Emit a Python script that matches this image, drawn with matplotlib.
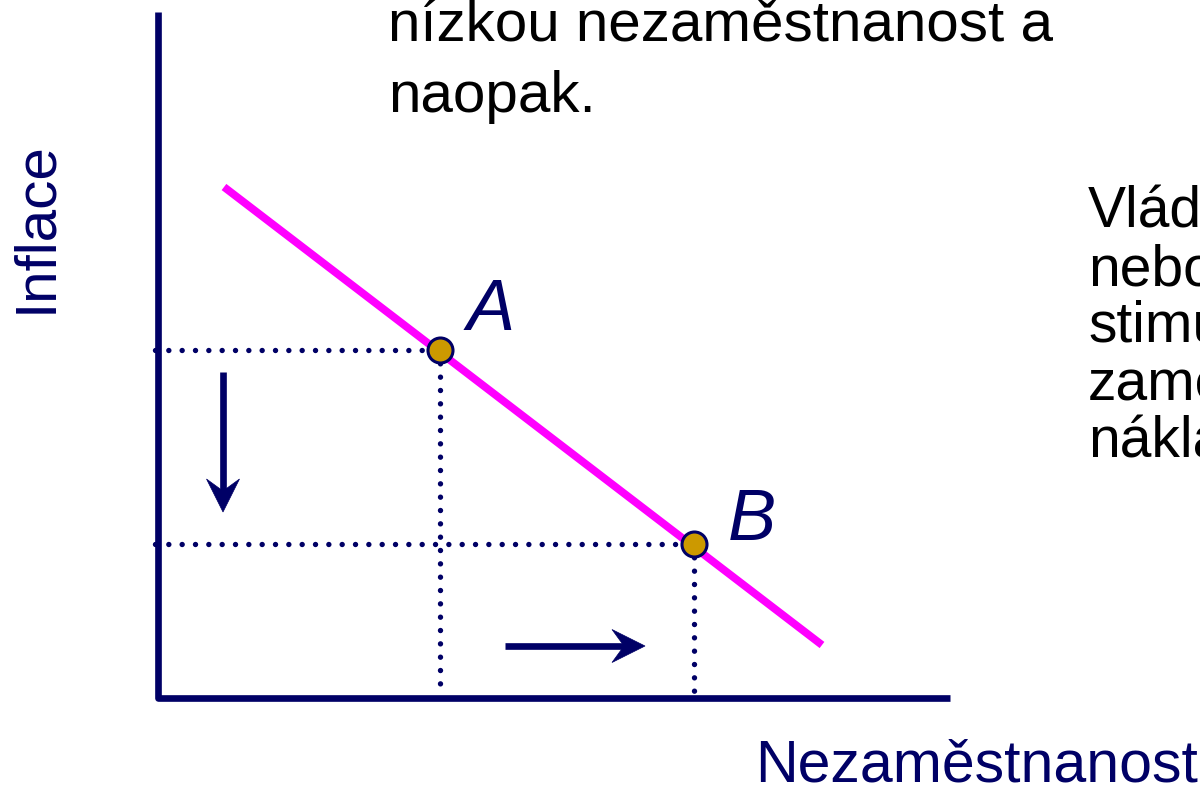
import matplotlib
matplotlib.use("Agg")
import matplotlib.pyplot as plt
import numpy as np
from matplotlib.patches import Polygon

plt.rcParams['lines.scale_dashes'] = False

NAVY = "#000066"
MAGENTA = "#FF00FF"
GOLD = "#CC9900"

# Phillips curve (schematic): unemployment (x) vs inflation (y)
curve_x = [0.66, 6.64]
curve_y = [5.11, 0.53]
point_names = ["A", "B"]
point_x = [2.82, 5.36]
point_y = [3.48, 1.54]
axis_x_max = 7.92
axis_y_max = 6.86

# Arrows: (x0, y0, x1, y1)
arrow_down = (0.65, 3.26, 0.65, 1.86)
arrow_right = (3.47, 0.52, 4.87, 0.52)

x_label = "Nezaměstnanost"
y_label = "Inflace"
top_lines = ["nízkou nezaměstnanost a", "naopak."]
right_lines = ["Vláda", "nebo", "stimulovat", "zaměstnanost", "náklady"]

fig = plt.figure(figsize=(12, 7.86), dpi=100)
ax = fig.add_axes([0, 0, 1, 1])
ax.set_xlim(-1.58, 10.42)
ax.set_ylim(-0.88, 6.98)
ax.axis("off")

FONT = ["Liberation Sans", "DejaVu Sans"]

# axes
ax.plot([0, 0, axis_x_max], [axis_y_max, 0, 0], color=NAVY, lw=4.8,
        solid_joinstyle="round", solid_capstyle="butt", zorder=3)

# dotted guides
for px, py in zip(point_x, point_y):
    ax.plot([-0.03, px], [py, py], color=NAVY, lw=3.9,
            linestyle=(0, (0.001, 9.6)), dash_capstyle="round", zorder=2)
    ax.plot([px, px], [py, 0.06], color=NAVY, lw=3.9,
            linestyle=(0, (0.001, 9.6)), dash_capstyle="round", zorder=2)

# curve
ax.plot(curve_x, curve_y, color=MAGENTA, lw=5.6, solid_capstyle="butt", zorder=4)

# points
ax.plot(point_x, point_y, "o", ms=18, mfc=GOLD, mec=NAVY, mew=2.2, zorder=5)

label_offsets = [(0.27, 0.20), (0.34, 0.04)]
for name, px, py, (dx, dy) in zip(point_names, point_x, point_y, label_offsets):
    ax.text(px + dx, py + dy, name, color=NAVY, fontsize=52, style="italic",
            family=FONT, ha="left", va="baseline")


def draw_arrow(x0, y0, x1, y1, head_len=0.33, head_w=0.33, notch=0.12, lw=4.8):
    d = np.array([x1 - x0, y1 - y0])
    L = np.hypot(*d)
    u = d / L
    n = np.array([-u[1], u[0]])
    tip = np.array([x1, y1])
    back = tip - u * head_len
    notch_pt = back + u * notch
    left = back + n * head_w / 2
    right = back - n * head_w / 2
    ax.plot([x0, notch_pt[0]], [y0, notch_pt[1]], color=NAVY, lw=lw,
            solid_capstyle="butt", zorder=3)
    ax.add_patch(Polygon([tip, left, notch_pt, right], closed=True,
                         facecolor=NAVY, edgecolor=NAVY, lw=0.5, zorder=3))


draw_arrow(*arrow_down)
draw_arrow(*arrow_right)

# axis labels
ax.text(5.97, -0.84, x_label, color=NAVY, fontsize=42.5, family=FONT,
        ha="left", va="baseline")
ax.text(-1.22, 4.71, y_label, color=NAVY, fontsize=42, family=FONT,
        rotation=90, ha="center", va="center")

# top text
top_baselines = [6.57, 5.86]
for s, yb in zip(top_lines, top_baselines):
    ax.text(2.30, yb, s, color="black", fontsize=42, family=FONT,
            ha="left", va="baseline")

# right text
right_baselines = [4.71, 4.13, 3.56, 2.98, 2.41]
for s, yb in zip(right_lines, right_baselines):
    ax.text(9.30, yb, s, color="black", fontsize=41, family=FONT,
            ha="left", va="baseline", clip_on=True)

fig.savefig("out.png", dpi=100)
